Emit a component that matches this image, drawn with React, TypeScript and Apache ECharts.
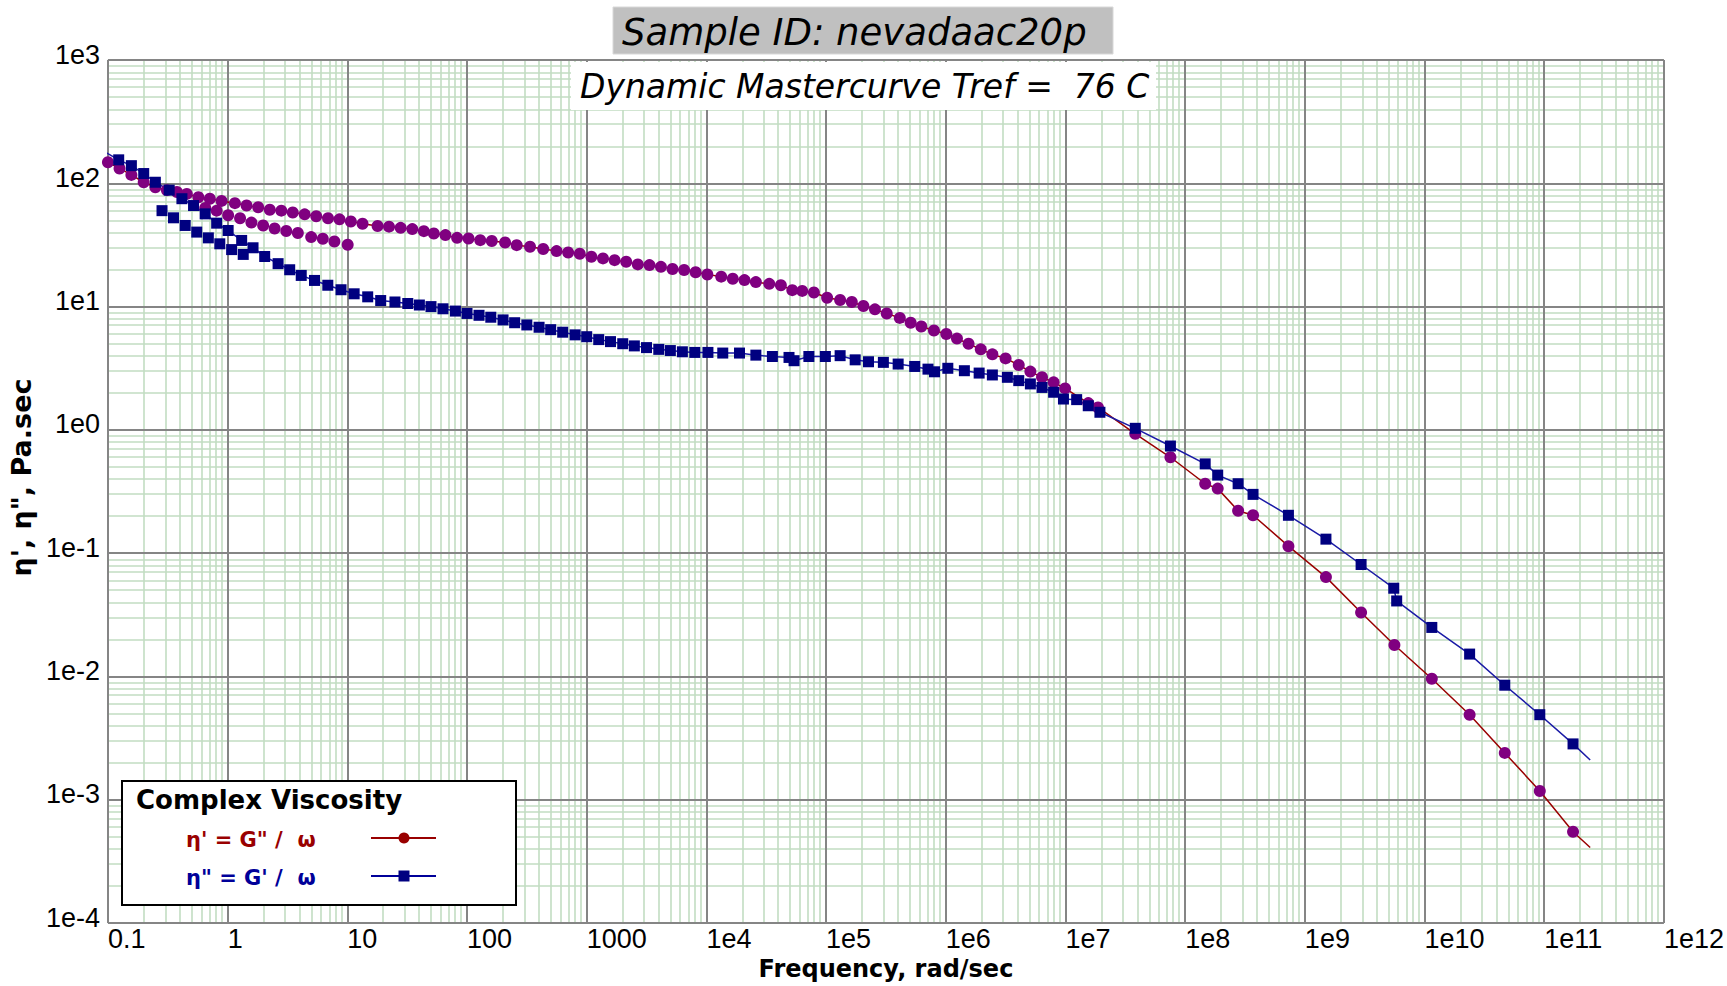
import React, { useEffect, useRef } from "react";
import * as echarts from "echarts";

// ---------- data (frequency in rad/sec, viscosity in Pa.sec) ----------
// eta' markers on the main (line-connected) branch
const etaPrimeFreq = [
  0.1, 0.125, 0.157, 0.199, 0.249, 0.311, 0.377, 0.456, 0.57, 0.71, 0.89, 1.15, 1.44, 1.8, 2.25, 2.81, 3.5, 4.4, 5.5, 6.9,
  8.6, 10.7, 13.4, 17.9, 22.3, 27.9, 34.9, 43.6, 52.8, 66, 82.6, 103, 129, 161, 208, 260, 336, 433, 560, 700,
  875, 1094, 1368, 1710, 2138, 2673, 3342, 4169, 5212, 6516, 8128, 10186, 13300, 16600, 20800, 25900, 33500, 41900, 52200, 63200,
  79100, 102000, 131000, 164000, 205000, 256000, 321000, 413000, 509000, 625000, 796000, 1010000, 1240000, 1550000, 1960000, 2450000, 3160000, 4070000, 5090000, 6370000,
  7960000, 9930000, 1.55e7, 1.87e7, 3.83e7, 7.53e7, 1.47e8, 1.87e8, 2.77e8, 3.69e8, 7.29e8, 1.5e9, 2.95e9, 5.6e9, 1.15e10, 2.38e10, 4.68e10, 9.18e10, 1.74e11,
];
const etaPrimeValues = [
  148, 132, 117, 102, 93, 88, 85, 82, 77, 75, 72, 69, 66, 64, 61, 60, 58, 56, 54, 52,
  51, 49, 47, 45, 44.5, 43.5, 42.5, 40.9, 39.2, 38, 36.1, 35.7, 34.6, 34, 33.1, 31.5, 30.6, 29.3, 28.2, 27.5,
  26.8, 25.4, 24.6, 23.8, 23.1, 22, 21.7, 21, 20.2, 19.8, 19, 18.2, 17.5, 16.8, 16.4, 15.8, 15.3, 14.9, 13.6, 13.4,
  13, 11.8, 11.3, 10.9, 10.1, 9.5, 8.8, 8.1, 7.4, 6.9, 6.4, 6.0, 5.5, 5.0, 4.5, 4.1, 3.8, 3.36, 2.97, 2.67,
  2.43, 2.17, 1.65, 1.52, 0.93, 0.6, 0.366, 0.334, 0.221, 0.203, 0.114, 0.064, 0.033, 0.018, 0.0096, 0.0049, 0.0024, 0.00118, 0.00055,
];
// eta' markers on the lower low-frequency segment
const etaPrimeExtraFreq = [0.65, 0.81, 1.01, 1.27, 1.58, 1.98, 2.47, 3.09, 3.86, 4.99, 6.24, 7.8, 10.07];
const etaPrimeExtraValues = [63, 60, 55, 52, 48, 45.5, 43, 41, 39.5, 36.6, 35.5, 33.7, 31.7];

// eta'' markers on the main (line-connected) branch
const etaDoublePrimeFreq = [
  0.099, 0.123, 0.157, 0.199, 0.249, 0.325, 0.415, 0.519, 0.649, 0.81, 1.01, 1.31, 1.63, 2.04, 2.64, 3.3, 4.12, 5.32, 6.87, 8.86,
  11.4, 14.8, 19, 25, 32, 40, 50, 63, 80, 100, 126, 158, 200, 250, 316, 400, 500, 630, 800, 1000,
  1260, 1580, 2000, 2500, 3160, 4000, 5000, 6300, 8000, 10300, 13700, 18900, 25900, 35600, 49000, 54000, 71800, 98600, 131000, 175000,
  226000, 301000, 400000, 550000, 710000, 805000, 1040000, 1430000, 1900000, 2450000, 3270000, 4070000, 5090000, 6370000, 7960000, 9620000, 1.24e7, 1.55e7, 1.94e7, 3.83e7,
  7.53e7, 1.47e8, 1.87e8, 2.77e8, 3.69e8, 7.29e8, 1.5e9, 2.95e9, 5.53e9, 5.85e9, 1.15e10, 2.38e10, 4.68e10, 9.18e10, 1.74e11,
];
const etaDoublePrimeValues = [
  175, 155, 139, 120, 102, 88, 75, 66, 56.5, 47.5, 41.4, 34.4, 30, 25.5, 22.3, 19.9, 17.9, 16.3, 14.9, 13.7,
  12.7, 12, 11.2, 10.9, 10.6, 10.3, 10, 9.6, 9.2, 8.8, 8.5, 8.2, 7.8, 7.4, 7.1, 6.8, 6.5, 6.2, 5.9, 5.7,
  5.4, 5.2, 5.0, 4.8, 4.65, 4.5, 4.4, 4.3, 4.25, 4.25, 4.2, 4.2, 4.04, 3.94, 3.87, 3.64, 3.94, 3.94, 4.0, 3.7,
  3.57, 3.53, 3.42, 3.27, 3.11, 2.96, 3.16, 3.02, 2.89, 2.79, 2.67, 2.51, 2.36, 2.21, 2.02, 1.78, 1.76, 1.57, 1.39, 1.03,
  0.74, 0.53, 0.43, 0.366, 0.3, 0.203, 0.13, 0.081, 0.052, 0.041, 0.025, 0.0152, 0.0085, 0.0049, 0.00284,
];
// eta'' markers on the lower low-frequency segment
const etaDoublePrimeExtraFreq = [0.283, 0.353, 0.442, 0.552, 0.69, 0.86, 1.08, 1.35];
const etaDoublePrimeExtraValues = [60, 52.5, 45.5, 40.2, 36.1, 32.3, 29, 26.5];

// ends of the drawn curves beyond the markers
const curveStartFreq = 0.068;
const curveEndFreq = 2.42e11;
const etaPrimeCurveEnds = [215, 0.00041];
const etaDoublePrimeCurveEnds = [220, 0.0021];

// axis tick labels (decades)
const xTickLabels = ["0.1", "1", "10", "100", "1000", "1e4", "1e5", "1e6", "1e7", "1e8", "1e9", "1e10", "1e11", "1e12"];
const yTickLabels = ["1e-4", "1e-3", "1e-2", "1e-1", "1e0", "1e1", "1e2", "1e3"];

const titleText = "Sample ID: nevadaac20p";
const subtitleText = "Dynamic Mastercurve Tref =  76 C";
const legendTitle = "Complex Viscosity";
const legendEtaPrime = "η' = G\" /  ω";
const legendEtaDoublePrime = "η\" = G' /  ω";

// ---------- helpers ----------
const toLogPairs = (f: number[], v: number[]) => f.map((x, i) => [Math.log10(x), Math.log10(v[i])]);

const X_MIN = -1, X_MAX = 12, Y_MIN = -4, Y_MAX = 3;

function minorValues(lo: number, hi: number) {
  const out: number[] = [];
  for (let d = lo; d < hi; d++) for (let k = 2; k <= 9; k++) out.push(d + Math.log10(k));
  return out;
}
function majorValues(lo: number, hi: number) {
  const out: number[] = [];
  for (let d = lo; d <= hi; d++) out.push(d);
  return out;
}

const RED = "#990000";
const PURPLE = "#800080";
const BLUE_LINE = "#1a1aa6";
const NAVY = "#000080";

export default function App() {
  const ref = useRef<HTMLDivElement>(null);

  useEffect(() => {
    if (!ref.current) return;
    const chart = echarts.init(ref.current, undefined, { renderer: "svg" });

    const etaPrimeCurve = [
      [Math.log10(curveStartFreq), Math.log10(etaPrimeCurveEnds[0])],
      ...toLogPairs(etaPrimeFreq, etaPrimeValues),
      [Math.log10(curveEndFreq), Math.log10(etaPrimeCurveEnds[1])],
    ];
    const etaDoublePrimeCurve = [
      [Math.log10(curveStartFreq), Math.log10(etaDoublePrimeCurveEnds[0])],
      ...toLogPairs(etaDoublePrimeFreq, etaDoublePrimeValues),
      [Math.log10(curveEndFreq), Math.log10(etaDoublePrimeCurveEnds[1])],
    ];
    const etaPrimePoints = [
      ...toLogPairs(etaPrimeFreq, etaPrimeValues),
      ...toLogPairs(etaPrimeExtraFreq, etaPrimeExtraValues),
    ];
    const etaDoublePrimePoints = [
      ...toLogPairs(etaDoublePrimeFreq, etaDoublePrimeValues),
      ...toLogPairs(etaDoublePrimeExtraFreq, etaDoublePrimeExtraValues),
    ];

    const gridLineSeries = (vals: { xAxis?: number; yAxis?: number }[], color: string, width: number, z: number) => ({
      type: "line",
      data: [],
      silent: true,
      z,
      markLine: {
        silent: true,
        z,
        symbol: ["none", "none"],
        label: { show: false },
        emphasis: { disabled: true },
        animation: false,
        lineStyle: { color, width, type: "solid" },
        data: vals,
      },
    });

    const option: any = {
      animation: false,
      backgroundColor: "#ffffff",
      grid: { left: 102, right: 60, top: 60, bottom: 60, show: true, backgroundColor: "#ffffff", borderWidth: 0 },
      xAxis: {
        type: "value",
        min: X_MIN,
        max: X_MAX,
        interval: 1,
        name: "Frequency, rad/sec",
        nameLocation: "middle",
        nameGap: 31,
        nameTextStyle: { fontFamily: "DejaVu Sans", fontWeight: "bold", fontSize: 24, color: "#000" },
        axisLine: { show: false },
        axisTick: { show: false },
        splitLine: { show: false },
        axisLabel: {
          show: true,
          showMinLabel: true,
          showMaxLabel: true,
          align: "left",
          margin: 2,
          fontFamily: "Liberation Sans",
          fontSize: 27,
          color: "#000",
          formatter: (v: number) => xTickLabels[Math.round(v) - X_MIN] ?? "",
        },
      },
      yAxis: {
        type: "value",
        min: Y_MIN,
        max: Y_MAX,
        interval: 1,
        name: "η', η\", Pa.sec",
        nameLocation: "middle",
        nameRotate: 90,
        nameGap: 62,
        nameTextStyle: {
          fontFamily: "DejaVu Sans",
          fontWeight: "bold",
          fontSize: 27,
          color: "#000",
          padding: [0, 0, 0, 28],
        },
        axisLine: { show: false },
        axisTick: { show: false },
        splitLine: { show: false },
        axisLabel: {
          show: true,
          showMinLabel: true,
          showMaxLabel: true,
          margin: 8,
          fontFamily: "Liberation Sans",
          fontSize: 27,
          color: "#000",
          verticalAlign: "bottom",
          lineHeight: 11,
          formatter: (v: number) => yTickLabels[Math.round(v) - Y_MIN] ?? "",
        },
      },
      series: [
        gridLineSeries(
          [
            ...minorValues(X_MIN, X_MAX).map((v) => ({ xAxis: v })),
            ...minorValues(Y_MIN, Y_MAX).map((v) => ({ yAxis: v })),
          ],
          "#c2ddc2",
          1.6,
          1
        ),
        gridLineSeries(
          [
            ...majorValues(X_MIN, X_MAX).map((v) => ({ xAxis: v })),
            ...majorValues(Y_MIN, Y_MAX).map((v) => ({ yAxis: v })),
          ],
          "#858585",
          2,
          2
        ),
        {
          name: "eta' curve",
          type: "line",
          data: etaPrimeCurve,
          showSymbol: false,
          symbol: "none",
          clip: false,
          z: 3,
          lineStyle: { color: RED, width: 1.5 },
        },
        {
          name: "eta'' curve",
          type: "line",
          data: etaDoublePrimeCurve,
          showSymbol: false,
          symbol: "none",
          clip: false,
          z: 3,
          lineStyle: { color: BLUE_LINE, width: 1.5 },
        },
        {
          name: "eta'",
          type: "scatter",
          data: etaPrimePoints,
          symbol: "circle",
          symbolSize: 12,
          z: 4,
          itemStyle: { color: PURPLE, opacity: 1 },
        },
        {
          name: "eta''",
          type: "scatter",
          data: etaDoublePrimePoints,
          symbol: "rect",
          symbolSize: 11,
          z: 5,
          itemStyle: { color: NAVY, opacity: 1 },
        },
      ],
      graphic: [
        {
          type: "rect",
          z: 100,
          shape: { x: 613, y: 7, width: 500, height: 47 },
          style: { fill: "#c0c0c0", stroke: "#d8d8d8", lineWidth: 1 },
        },
        {
          type: "text",
          z: 101,
          x: 622,
          y: 32,
          style: {
            text: titleText,
            fill: "#000",
            font: "italic 37px 'DejaVu Sans'",
            textAlign: "left",
            textVerticalAlign: "middle",
          },
        },
        {
          type: "rect",
          z: 100,
          shape: { x: 571, y: 62, width: 585, height: 48 },
          style: { fill: "#ffffff" },
        },
        {
          type: "text",
          z: 101,
          x: 580,
          y: 86,
          style: {
            text: subtitleText,
            fill: "#000",
            font: "italic 33px 'DejaVu Sans'",
            textAlign: "left",
            textVerticalAlign: "middle",
          },
        },
        {
          type: "rect",
          z: 100,
          shape: { x: 122, y: 781, width: 394, height: 124 },
          style: { fill: "#ffffff", stroke: "#000", lineWidth: 2 },
        },
        {
          type: "text",
          z: 101,
          x: 136,
          y: 800,
          style: {
            text: legendTitle,
            fill: "#000",
            font: "bold 26px 'DejaVu Sans'",
            textAlign: "left",
            textVerticalAlign: "middle",
          },
        },
        {
          type: "text",
          z: 101,
          x: 186,
          y: 840,
          style: {
            text: legendEtaPrime,
            fill: RED,
            font: "bold 21px 'DejaVu Sans'",
            textAlign: "left",
            textVerticalAlign: "middle",
          },
        },
        {
          type: "line",
          z: 101,
          shape: { x1: 371, y1: 838, x2: 436, y2: 838 },
          style: { stroke: RED, lineWidth: 2 },
        },
        {
          type: "circle",
          z: 102,
          shape: { cx: 404, cy: 838, r: 5.5 },
          style: { fill: RED },
        },
        {
          type: "text",
          z: 101,
          x: 186,
          y: 878,
          style: {
            text: legendEtaDoublePrime,
            fill: "#000099",
            font: "bold 21px 'DejaVu Sans'",
            textAlign: "left",
            textVerticalAlign: "middle",
          },
        },
        {
          type: "line",
          z: 101,
          shape: { x1: 371, y1: 876, x2: 436, y2: 876 },
          style: { stroke: "#000099", lineWidth: 2 },
        },
        {
          type: "rect",
          z: 102,
          shape: { x: 398.5, y: 870.5, width: 11, height: 11 },
          style: { fill: NAVY },
        },
      ],
    };

    chart.setOption(option);
    return () => chart.dispose();
  }, []);

  return (
    <div
      ref={ref}
      style={{ position: "absolute", left: 0, top: 0, width: 1727, height: 986, background: "#fff" }}
    />
  );
}
